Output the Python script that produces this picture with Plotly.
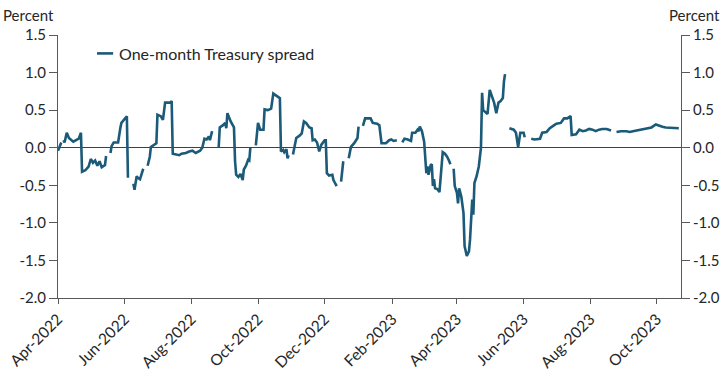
import plotly.graph_objects as go

dates = [
    "2022-04-01","2022-04-04","2022-04-05","2022-04-06","2022-04-07","2022-04-09","2022-04-11","2022-04-15",
    "2022-04-20","2022-04-22","2022-04-23","2022-04-26","2022-04-29","2022-05-01","2022-05-03","2022-05-05",
    "2022-05-07","2022-05-09","2022-05-11","2022-05-14","2022-05-15","2022-05-17","2022-05-19","2022-05-20",
    "2022-05-22","2022-05-26","2022-05-28","2022-05-29","2022-06-02","2022-06-03","2022-06-04","2022-06-06",
    "2022-06-09","2022-06-10","2022-06-12","2022-06-13","2022-06-15","2022-06-18","2022-06-20","2022-06-22",
    "2022-06-24","2022-06-25","2022-06-28","2022-06-30","2022-07-01","2022-07-04","2022-07-06","2022-07-08",
    "2022-07-13","2022-07-14","2022-07-15","2022-07-19","2022-07-21","2022-07-23","2022-07-27","2022-07-30",
    "2022-08-02","2022-08-05","2022-08-09","2022-08-11","2022-08-13","2022-08-15","2022-08-17","2022-08-18",
    "2022-08-20","2022-08-23","2022-08-26","2022-08-27","2022-08-30","2022-09-01","2022-09-02","2022-09-03",
    "2022-09-06","2022-09-09","2022-09-10","2022-09-11","2022-09-13","2022-09-15","2022-09-17","2022-09-18",
    "2022-09-20","2022-09-22","2022-09-23","2022-09-24","2022-09-26","2022-09-29","2022-10-01","2022-10-03",
    "2022-10-06","2022-10-07","2022-10-10","2022-10-13","2022-10-15","2022-10-18","2022-10-21","2022-10-22",
    "2022-10-24","2022-10-25","2022-10-27","2022-10-28","2022-10-29","2022-10-31","2022-11-02","2022-11-03",
    "2022-11-05","2022-11-08","2022-11-10","2022-11-12","2022-11-14","2022-11-17","2022-11-19","2022-11-20",
    "2022-11-22","2022-11-24","2022-11-26","2022-11-28","2022-12-01","2022-12-02","2022-12-03","2022-12-05",
    "2022-12-08","2022-12-09","2022-12-12","2022-12-14","2022-12-16","2022-12-18","2022-12-20","2022-12-23",
    "2022-12-25","2022-12-28","2022-12-31","2023-01-01","2023-01-03","2023-01-05","2023-01-07","2023-01-12",
    "2023-01-14","2023-01-18","2023-01-20","2023-01-22","2023-01-26","2023-01-29","2023-01-31","2023-02-02",
    "2023-02-05","2023-02-07","2023-02-10","2023-02-12","2023-02-15","2023-02-18","2023-02-19","2023-02-22",
    "2023-02-24","2023-02-25","2023-02-26","2023-02-28","2023-03-02","2023-03-03","2023-03-04","2023-03-05",
    "2023-03-06","2023-03-08","2023-03-09","2023-03-10","2023-03-11","2023-03-12","2023-03-14","2023-03-16",
    "2023-03-18","2023-03-19","2023-03-21","2023-03-23","2023-03-25","2023-03-26","2023-03-27","2023-03-29",
    "2023-03-30","2023-04-01","2023-04-02","2023-04-03","2023-04-05","2023-04-07","2023-04-08","2023-04-10",
    "2023-04-12","2023-04-13","2023-04-14","2023-04-15","2023-04-16","2023-04-17","2023-04-19","2023-04-21",
    "2023-04-23","2023-04-24","2023-04-25","2023-04-27","2023-04-29","2023-05-01","2023-05-03","2023-05-05",
    "2023-05-07","2023-05-09","2023-05-11","2023-05-13","2023-05-14","2023-05-15","2023-05-18","2023-05-19",
    "2023-05-23","2023-05-25","2023-05-27","2023-05-29","2023-06-01","2023-06-02","2023-06-04","2023-06-08",
    "2023-06-11","2023-06-16","2023-06-18","2023-06-22","2023-06-25","2023-06-28","2023-07-01","2023-07-05",
    "2023-07-08","2023-07-11","2023-07-14","2023-07-15","2023-07-19","2023-07-22","2023-07-25","2023-07-28",
    "2023-07-31","2023-08-03","2023-08-06","2023-08-09","2023-08-12","2023-08-16","2023-08-20","2023-08-22",
    "2023-08-25","2023-08-29","2023-09-03","2023-09-06","2023-09-09","2023-09-12","2023-09-15","2023-09-18",
    "2023-09-21","2023-09-26","2023-09-30","2023-10-03","2023-10-06","2023-10-09","2023-10-12","2023-10-16",
    "2023-10-21",
]

spread = [
    -0.04, 0.07, None, 0.10, 0.07, 0.20, 0.13, 0.08,
    0.12, 0.20, -0.32, -0.30, -0.25, -0.15, -0.20, -0.17,
    -0.24, -0.18, -0.26, -0.23, -0.11, None, -0.07, 0.02,
    0.07, 0.07, 0.26, 0.33, 0.40, 0.42, -0.40, None,
    -0.48, -0.56, -0.38, -0.40, -0.42, -0.28, None, -0.24,
    -0.12, 0.01, 0.04, 0.06, 0.44, 0.42, 0.37, 0.60,
    0.60, 0.62, -0.08, -0.09, -0.10, -0.08, -0.07, -0.05,
    -0.04, -0.07, -0.04, 0.00, 0.12, 0.11, 0.15, 0.10,
    0.22, None, 0.00, 0.27, 0.30, 0.33, 0.26, 0.46,
    0.35, 0.27, -0.18, -0.36, -0.39, -0.35, -0.43, -0.29,
    -0.24, -0.16, -0.17, 0.00, None, 0.03, 0.33, 0.24,
    0.24, 0.51, 0.50, 0.52, 0.72, 0.69, 0.66, -0.05,
    -0.03, -0.06, -0.02, -0.14, -0.10, None, -0.09, 0.00,
    0.13, 0.16, 0.19, 0.35, 0.33, 0.27, 0.26, 0.10,
    0.11, 0.07, -0.05, 0.04, 0.10, 0.10, -0.34, -0.37,
    -0.36, -0.43, -0.51, None, -0.45, -0.18, None, -0.14,
    0.01, 0.06, 0.13, 0.28, None, 0.29, 0.39, 0.39,
    0.33, 0.32, 0.30, 0.06, 0.06, 0.10, 0.11, 0.09,
    0.10, None, 0.07, 0.12, 0.11, 0.09, 0.20, 0.20,
    0.24, 0.22, 0.28, 0.22, 0.08, -0.12, -0.34, -0.25,
    -0.36, -0.23, -0.22, -0.51, -0.42, -0.54, -0.55, -0.59,
    -0.29, -0.06, -0.08, -0.12, -0.18, -0.22, None, -0.28,
    -0.51, -0.60, -0.74, -0.54, -0.65, -0.87, -1.31, -1.44,
    -1.38, -1.22, -0.91, -0.69, -0.89, -0.47, -0.38, -0.25,
    0.00, 0.73, 0.50, 0.48, 0.45, 0.77, 0.68, 0.60,
    0.46, 0.60, 0.62, 0.66, 0.88, 0.98, None, 0.26,
    0.24, 0.20, 0.01, 0.20, 0.20, 0.14, None, 0.12,
    0.11, 0.12, 0.20, 0.21, 0.26, 0.29, 0.32, 0.33,
    0.39, 0.39, 0.42, 0.17, 0.18, 0.24, 0.22, 0.23,
    0.25, 0.24, 0.22, 0.24, 0.25, 0.25, 0.23, None,
    0.21, 0.22, 0.22, 0.21, 0.22, 0.23, 0.24, 0.24,
    0.25, 0.27, 0.31, 0.29, 0.28, 0.27, 0.27, 0.27,
    0.26,
]

y_ticks = [1.5, 1.0, 0.5, 0.0, -0.5, -1.0, -1.5, -2.0]
y_range = [-2.0, 1.5]
x_range = ["2022-04-01", "2023-10-23"]
series_name = "One-month Treasury spread"
line_color = "#1b5a78"
font_family = "Lato, 'Open Sans', sans-serif"
font_color = "#262626"

fig = go.Figure()
fig.add_trace(go.Scatter(
    x=dates, y=spread, mode="lines", name=series_name,
    line=dict(color=line_color, width=2.6), connectgaps=False,
    showlegend=False,
))
# invisible twin so the right-hand axis is drawn
fig.add_trace(go.Scatter(
    x=dates, y=spread, mode="lines", yaxis="y2",
    line=dict(color="rgba(0,0,0,0)", width=0), showlegend=False, hoverinfo="skip",
))

axis_line = "#595959"
tick_fmt = [f"{v:.1f}" for v in y_ticks]

fig.update_layout(
    width=725, height=371,
    margin=dict(l=58, r=44, t=35, b=73, autoexpand=False),
    paper_bgcolor="white", plot_bgcolor="white",
    font=dict(family=font_family, size=15, color=font_color),
    xaxis=dict(
        type="date", range=x_range, automargin=False,
        tick0="2022-04-01", dtick="M2", tickformat="%b-%Y",
        tickangle=-45, ticks="outside", ticklen=5, tickcolor=axis_line,
        showline=True, linecolor=axis_line, linewidth=1,
        showgrid=False, zeroline=False,
        tickfont=dict(size=15.5, color=font_color),
    ),
    yaxis=dict(
        range=y_range, tickvals=y_ticks, ticktext=tick_fmt, automargin=False,
        ticks="outside", ticklen=8, tickcolor=axis_line,
        showline=True, linecolor=axis_line, linewidth=1,
        showgrid=False, zeroline=True, zerolinecolor="#404040", zerolinewidth=1,
        tickfont=dict(size=15, color=font_color),
    ),
    yaxis2=dict(
        range=y_range, tickvals=y_ticks, ticktext=tick_fmt, automargin=False,
        overlaying="y", side="right", anchor="x",
        ticks="outside", ticklen=8, tickcolor=axis_line,
        showline=True, linecolor=axis_line, linewidth=1,
        showgrid=False, zeroline=False,
        tickfont=dict(size=15, color=font_color),
    ),
    annotations=[
        dict(text="Percent", xref="paper", yref="paper", x=-0.0915, y=1.0,
             yshift=20, xanchor="left", yanchor="middle", showarrow=False,
             font=dict(size=15, color=font_color)),
        dict(text="Percent", xref="paper", yref="paper", x=1.0665, y=1.0,
             yshift=20, xanchor="right", yanchor="middle", showarrow=False,
             font=dict(size=15, color=font_color)),
        dict(text=series_name, xref="paper", yref="paper", x=0.094, y=0.93,
             xanchor="left", yanchor="middle", showarrow=False,
             font=dict(size=16, color=font_color)),
    ],
    shapes=[
        dict(type="line", xref="paper", yref="paper", x0=0.0626, x1=0.0885,
             y0=0.93, y1=0.93, line=dict(color=line_color, width=2.6)),
    ],
)

fig.write_html(
    "out.html",
    config={"displayModeBar": False},
    post_script="document.body.style.margin='0';document.body.style.padding='0';",
)
